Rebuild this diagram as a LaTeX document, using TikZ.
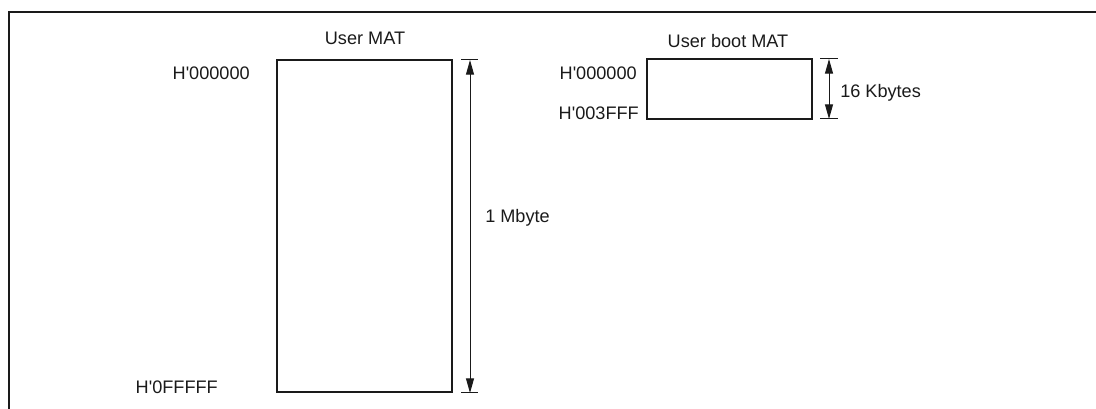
\documentclass[tikz,border=0pt]{standalone}
\usepackage{fontspec}
\setmainfont{Liberation Sans}
\usetikzlibrary{arrows.meta,calc,positioning}
\definecolor{MatInk}{HTML}{1A1A1A}
\newcommand{\hx}{H\textquotesingle}
\tikzset{
  matbox/.style={draw=MatInk,line width=1.7pt},
  dimline/.style={draw=MatInk,line width=0.75pt,
    {Triangle[length=11pt,width=6pt]}-{Triangle[length=11pt,width=6pt]}},
  dimtick/.style={draw=MatInk,line width=0.75pt},
  matlabel/.style={text=MatInk,inner sep=0pt,
    font=\fontsize{13.6}{15}\selectfont}
}

\begin{document}
\begin{tikzpicture}[x=0.75pt,y=-0.75pt]

        \useasboundingbox (0,0) rectangle (1096,409);

        % frame
        \draw[MatInk,line width=1.6pt] (9,409) -- (9,12) -- (1096,12);

        % user MAT
        \coordinate (userTop) at (277,60);
        \coordinate (userBot) at (452,392);
        \draw[matbox] (userTop) rectangle (userBot);

        \coordinate (userDimTop) at (470,60);
        \coordinate (userDimBot) at (470,393);
        \draw[dimtick] ($(userDimTop)+(-9,0)$) -- ($(userDimTop)+(8,0)$);
        \draw[dimtick] ($(userDimBot)+(-9,0)$) -- ($(userDimBot)+(8,0)$);
        \draw[dimline] (userDimTop) -- (userDimBot);

        \node[matlabel,anchor=base] (userTitle) at (365,45) {User MAT};
        \node[matlabel,anchor=base east] (userStart) at (250,80) {\hx000000};
        \node[matlabel,anchor=base east] (userEnd) at (218,394) {\hx0FFFFF};
        \node[matlabel,anchor=base west] (userSize) at (485,223) {1 Mbyte};

        % user boot MAT
        \coordinate (bootTop) at (647,59);
        \coordinate (bootBot) at (812,119);
        \draw[matbox] (bootTop) rectangle (bootBot);

        \coordinate (bootDimTop) at (829,59);
        \coordinate (bootDimBot) at (829,119);
        \draw[dimtick] ($(bootDimTop)+(-9,0)$) -- ($(bootDimTop)+(9,0)$);
        \draw[dimtick] ($(bootDimBot)+(-9,0)$) -- ($(bootDimBot)+(9,0)$);
        \draw[dimline] (bootDimTop) -- (bootDimBot);

        \node[matlabel,anchor=base] (bootTitle) at (728,48) {User boot MAT};
        \node[matlabel,anchor=base east] (bootStart) at (637,80) {\hx000000};
        \node[matlabel,anchor=base east] (bootEnd) at (639,120) {\hx003FFF};
        \node[matlabel,anchor=base west] (bootSize) at (840,98) {16 Kbytes};

      \end{tikzpicture}
\end{document}
